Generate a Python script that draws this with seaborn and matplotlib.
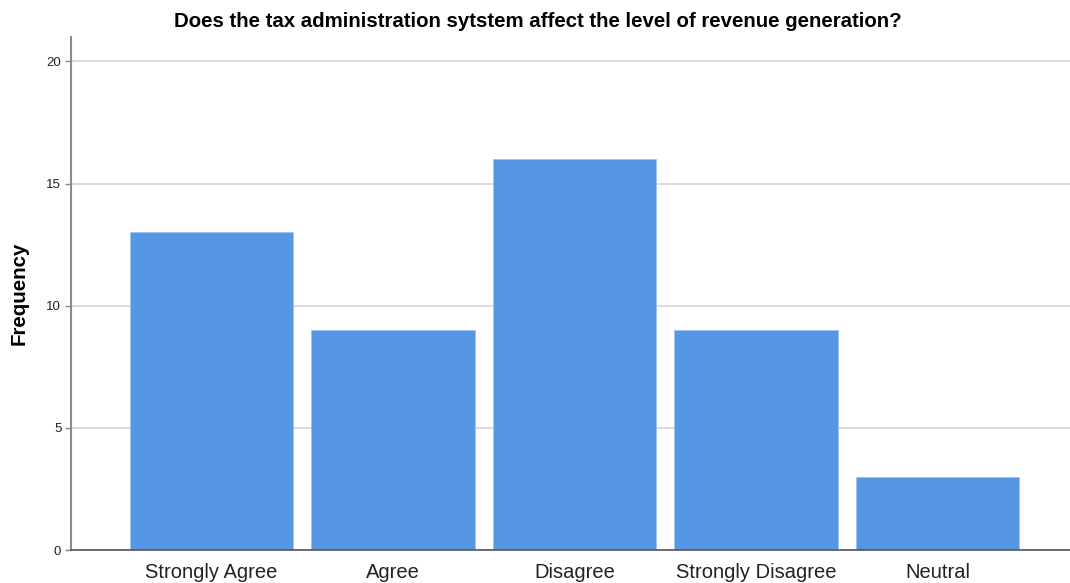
import matplotlib
matplotlib.use("Agg")
import matplotlib.pyplot as plt
import seaborn as sns

# survey responses
categories = ["Strongly Agree", "Agree", "Disagree", "Strongly Disagree", "Neutral"]
frequency = [13, 9, 16, 9, 3]
y_ticks = [0, 5, 10, 15, 20]

sns.set_theme(style="white")
plt.rcParams["font.family"] = ["Liberation Sans", "DejaVu Sans"]

fig = plt.figure(figsize=(10.7, 5.83), dpi=100)
ax = fig.add_axes([0.0664, 0.0566, 0.9336, 0.88])

ax.yaxis.grid(True, color="#d4d4d4", linewidth=1.2)
ax.set_axisbelow(True)

sns.barplot(x=categories, y=frequency, color="#5596e5", saturation=1,
            width=0.9, edgecolor="#9cc2f0", linewidth=0.6, ax=ax)

ax.set_xlim(-0.774, 4.73)
ax.set_ylim(0, 21)
ax.set_yticks(y_ticks)
ax.set_yticklabels([str(t) for t in y_ticks], fontsize=9.5, color="#222222")
ax.tick_params(axis="x", labelsize=14.5, colors="#222222", length=0, pad=9)
ax.tick_params(axis="y", left=True, length=4, width=1, color="#888888", pad=3)

ax.set_xlabel("")
ax.set_ylabel("Frequency", fontsize=14.8, fontweight="bold", labelpad=13, color="black")

for side in ["top", "right"]:
    ax.spines[side].set_visible(False)
ax.spines["left"].set_color("#8c8c8c")
ax.spines["left"].set_linewidth(1.5)
ax.spines["bottom"].set_color("#555555")
ax.spines["bottom"].set_linewidth(1.2)

fig.text(0.503, 0.963, "Does the tax administration sytstem affect the level of revenue generation?",
         ha="center", va="center", fontsize=14.7, fontweight="bold", color="black")

fig.savefig("out.png", dpi=100)
